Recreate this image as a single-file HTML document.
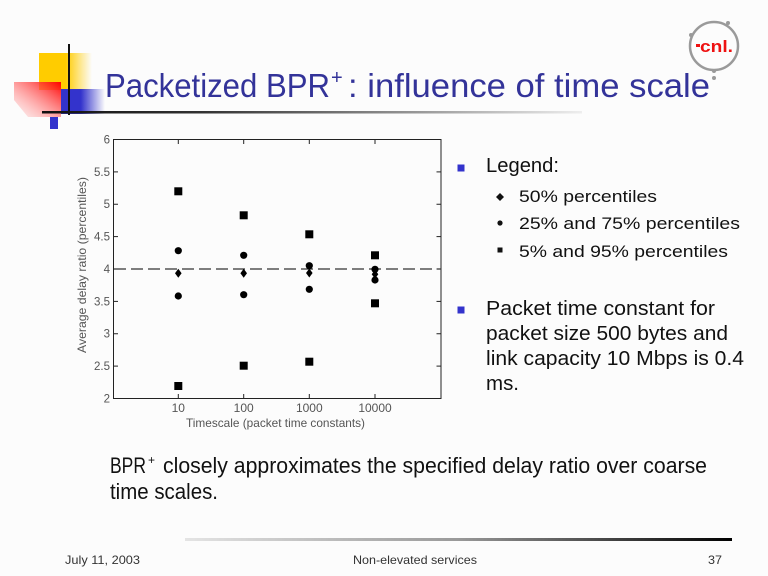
<!DOCTYPE html>
<html>
<head>
<meta charset="utf-8">
<style>
html,body{margin:0;padding:0;background:#fcfcfc;}
svg{display:block;}
text{font-family:"Liberation Sans","DejaVu Sans",sans-serif;}
</style>
</head>
<body>
<svg width="768" height="576" viewBox="0 0 768 576" xmlns="http://www.w3.org/2000/svg">
<defs>
  <linearGradient id="gy" x1="0" x2="1" y1="0" y2="0">
    <stop offset="0" stop-color="#ffcc00"/>
    <stop offset="0.5" stop-color="#ffcc00"/>
    <stop offset="1" stop-color="#ffcc00" stop-opacity="0"/>
  </linearGradient>
  <linearGradient id="gr" x1="1" y1="0" x2="0" y2="1">
    <stop offset="0" stop-color="#ff0000"/>
    <stop offset="0.6" stop-color="#ff8080" stop-opacity="0.6"/>
    <stop offset="1" stop-color="#ffd0d0" stop-opacity="0.3"/>
  </linearGradient>
  <linearGradient id="gb" x1="0" x2="1" y1="0" y2="0">
    <stop offset="0" stop-color="#3333cc"/>
    <stop offset="0.45" stop-color="#3333cc"/>
    <stop offset="1" stop-color="#3333cc" stop-opacity="0"/>
  </linearGradient>
  <linearGradient id="gl" x1="0" x2="1" y1="0" y2="0">
    <stop offset="0" stop-color="#111"/>
    <stop offset="0.3" stop-color="#333"/>
    <stop offset="0.7" stop-color="#999"/>
    <stop offset="1" stop-color="#eee"/>
  </linearGradient>
  <linearGradient id="gf" x1="0" x2="1" y1="0" y2="0">
    <stop offset="0" stop-color="#e4e4e4"/>
    <stop offset="0.5" stop-color="#999"/>
    <stop offset="1" stop-color="#000"/>
  </linearGradient>
</defs>
<rect x="0" y="0" width="768" height="576" fill="#fcfcfc"/>

<!-- decoration -->
<rect x="39" y="53" width="53" height="37" fill="url(#gy)"/>
<polygon points="14,82 61,82 61,117 28,117 14,100" fill="url(#gr)"/>
<rect x="61" y="89" width="44" height="25" fill="url(#gb)"/>
<rect x="50" y="117" width="8" height="12" fill="#3333cc"/>
<rect x="68" y="44" width="2" height="71" fill="#111"/>
<rect x="42" y="111" width="540" height="2.5" fill="url(#gl)"/>

<!-- logo -->
<circle cx="714" cy="46" r="24" fill="none" stroke="#9a9a9a" stroke-width="2.5"/>
<circle cx="728" cy="23" r="2" fill="#9a9a9a"/>
<circle cx="691" cy="35" r="2" fill="#9a9a9a"/>
<circle cx="714" cy="71" r="2" fill="#9a9a9a"/>
<circle cx="714" cy="78" r="2" fill="#9a9a9a"/>
<rect x="696" y="44" width="4" height="3" fill="#ee1111"/>
<text x="700" y="52" font-size="17" font-weight="bold" fill="#ee1111" textLength="33" lengthAdjust="spacingAndGlyphs">cnl.</text>

<!-- title -->
<text x="105" y="97" font-size="33" fill="#333399" textLength="225" lengthAdjust="spacingAndGlyphs">Packetized BPR</text>
<text x="331" y="84" font-size="20" fill="#333399">+</text>
<text x="348" y="97" font-size="33" fill="#333399" textLength="362" lengthAdjust="spacingAndGlyphs">: influence of time scale</text>

<!-- chart -->
<g>
  <rect x="113.5" y="139.5" width="327.5" height="259" fill="none" stroke="#222" stroke-width="1"/>
  <g stroke="#222" stroke-width="1">
    <!-- y ticks left & right -->
    <line x1="113.5" x2="118" y1="171.9" y2="171.9"/><line x1="441" x2="436.5" y1="171.9" y2="171.9"/>
    <line x1="113.5" x2="118" y1="204.25" y2="204.25"/><line x1="441" x2="436.5" y1="204.25" y2="204.25"/>
    <line x1="113.5" x2="118" y1="236.6" y2="236.6"/><line x1="441" x2="436.5" y1="236.6" y2="236.6"/>
    <line x1="113.5" x2="118" y1="269" y2="269"/><line x1="441" x2="436.5" y1="269" y2="269"/>
    <line x1="113.5" x2="118" y1="301.4" y2="301.4"/><line x1="441" x2="436.5" y1="301.4" y2="301.4"/>
    <line x1="113.5" x2="118" y1="333.75" y2="333.75"/><line x1="441" x2="436.5" y1="333.75" y2="333.75"/>
    <line x1="113.5" x2="118" y1="366.1" y2="366.1"/><line x1="441" x2="436.5" y1="366.1" y2="366.1"/>
    <!-- x ticks -->
    <line x1="178.3" x2="178.3" y1="398.5" y2="394"/><line x1="178.3" x2="178.3" y1="139.5" y2="144"/>
    <line x1="243.7" x2="243.7" y1="398.5" y2="394"/><line x1="243.7" x2="243.7" y1="139.5" y2="144"/>
    <line x1="309.3" x2="309.3" y1="398.5" y2="394"/><line x1="309.3" x2="309.3" y1="139.5" y2="144"/>
    <line x1="375" x2="375" y1="398.5" y2="394"/><line x1="375" x2="375" y1="139.5" y2="144"/>
  </g>
  <g font-size="11.5" fill="#555" text-anchor="end">
    <text x="110" y="143.5">6</text>
    <text x="110" y="175.9">5.5</text>
    <text x="110" y="208.2">5</text>
    <text x="110" y="240.6">4.5</text>
    <text x="110" y="273">4</text>
    <text x="110" y="305.4">3.5</text>
    <text x="110" y="337.7">3</text>
    <text x="110" y="370.1">2.5</text>
    <text x="110" y="402.5">2</text>
  </g>
  <g font-size="12" fill="#555" text-anchor="middle">
    <text x="178.3" y="412">10</text>
    <text x="243.7" y="412">100</text>
    <text x="309.3" y="412">1000</text>
    <text x="375" y="412">10000</text>
  </g>
  <text x="186" y="427" font-size="12" fill="#555" textLength="179" lengthAdjust="spacingAndGlyphs">Timescale (packet time constants)</text>
  <text transform="translate(86,353) rotate(-90)" x="0" y="0" font-size="12" fill="#555" textLength="176" lengthAdjust="spacingAndGlyphs">Average delay ratio (percentiles)</text>

  <line x1="114" x2="441" y1="269" y2="269" stroke="#333" stroke-width="1.2" stroke-dasharray="12 5"/>

  <g fill="#000">
    <!-- squares -->
    <rect x="174.3" y="187.3" width="8" height="8"/>
    <rect x="174.3" y="382" width="8" height="8"/>
    <rect x="239.7" y="211.3" width="8" height="8"/>
    <rect x="239.7" y="361.7" width="8" height="8"/>
    <rect x="305.3" y="230.3" width="8" height="8"/>
    <rect x="305.3" y="357.7" width="8" height="8"/>
    <rect x="371" y="251.3" width="8" height="8"/>
    <rect x="371" y="299.3" width="8" height="8"/>
    <!-- circles -->
    <circle cx="178.3" cy="250.7" r="3.6"/>
    <circle cx="178.3" cy="296" r="3.6"/>
    <circle cx="243.7" cy="255.3" r="3.6"/>
    <circle cx="243.7" cy="294.7" r="3.6"/>
    <circle cx="309.3" cy="265.7" r="3.6"/>
    <circle cx="309.3" cy="289.3" r="3.6"/>
    <circle cx="375" cy="269.3" r="3.6"/>
    <circle cx="375" cy="280" r="3.6"/>
    <!-- diamonds -->
    <polygon points="178.3,268.8 181.6,273.3 178.3,277.8 175,273.3"/>
    <polygon points="243.7,268.8 247,273.3 243.7,277.8 240.4,273.3"/>
    <polygon points="309.3,268.5 312.6,273 309.3,277.5 306,273"/>
    <polygon points="375,269.8 378.3,274.3 375,278.8 371.7,274.3"/>
  </g>
</g>

<!-- right text -->
<rect x="457.5" y="164.5" width="7" height="7" fill="#3333cc"/>
<text x="486" y="172" font-size="20" fill="#111" textLength="73" lengthAdjust="spacingAndGlyphs">Legend:</text>
<polygon points="500,193 504,197 500,201 496,197" fill="#111"/>
<text x="519" y="202" font-size="17" fill="#111" textLength="138" lengthAdjust="spacingAndGlyphs">50% percentiles</text>
<circle cx="500" cy="223" r="2.6" fill="#111"/>
<text x="519" y="229" font-size="17" fill="#111" textLength="221" lengthAdjust="spacingAndGlyphs">25% and 75% percentiles</text>
<rect x="497.5" y="247.5" width="5" height="5" fill="#111"/>
<text x="519" y="257" font-size="17" fill="#111" textLength="209" lengthAdjust="spacingAndGlyphs">5% and 95% percentiles</text>

<rect x="457.5" y="306.5" width="7" height="7" fill="#3333cc"/>
<text x="486" y="315" font-size="20" fill="#111" textLength="229" lengthAdjust="spacingAndGlyphs">Packet time constant for</text>
<text x="486" y="340" font-size="20" fill="#111" textLength="242" lengthAdjust="spacingAndGlyphs">packet size 500 bytes and</text>
<text x="486" y="365" font-size="20" fill="#111" textLength="258" lengthAdjust="spacingAndGlyphs">link capacity 10 Mbps is 0.4</text>
<text x="486" y="390" font-size="20" fill="#111" textLength="33" lengthAdjust="spacingAndGlyphs">ms.</text>

<!-- bottom text -->
<text x="110" y="473" font-size="22" fill="#111" textLength="36" lengthAdjust="spacingAndGlyphs">BPR</text>
<text x="148" y="464" font-size="12" fill="#111">+</text>
<text x="163" y="473" font-size="22" fill="#111" textLength="544" lengthAdjust="spacingAndGlyphs">closely approximates the specified delay ratio over coarse</text>
<text x="110" y="499" font-size="22" fill="#111" textLength="108" lengthAdjust="spacingAndGlyphs">time scales.</text>

<!-- footer -->
<rect x="185" y="538" width="547" height="3" fill="url(#gf)"/>
<text x="65" y="564" font-size="12" fill="#333" textLength="75" lengthAdjust="spacingAndGlyphs">July 11, 2003</text>
<text x="353" y="564" font-size="12" fill="#333" textLength="124" lengthAdjust="spacingAndGlyphs">Non-elevated services</text>
<text x="708" y="564" font-size="12" fill="#333" textLength="14" lengthAdjust="spacingAndGlyphs">37</text>
</svg>
</body>
</html>
